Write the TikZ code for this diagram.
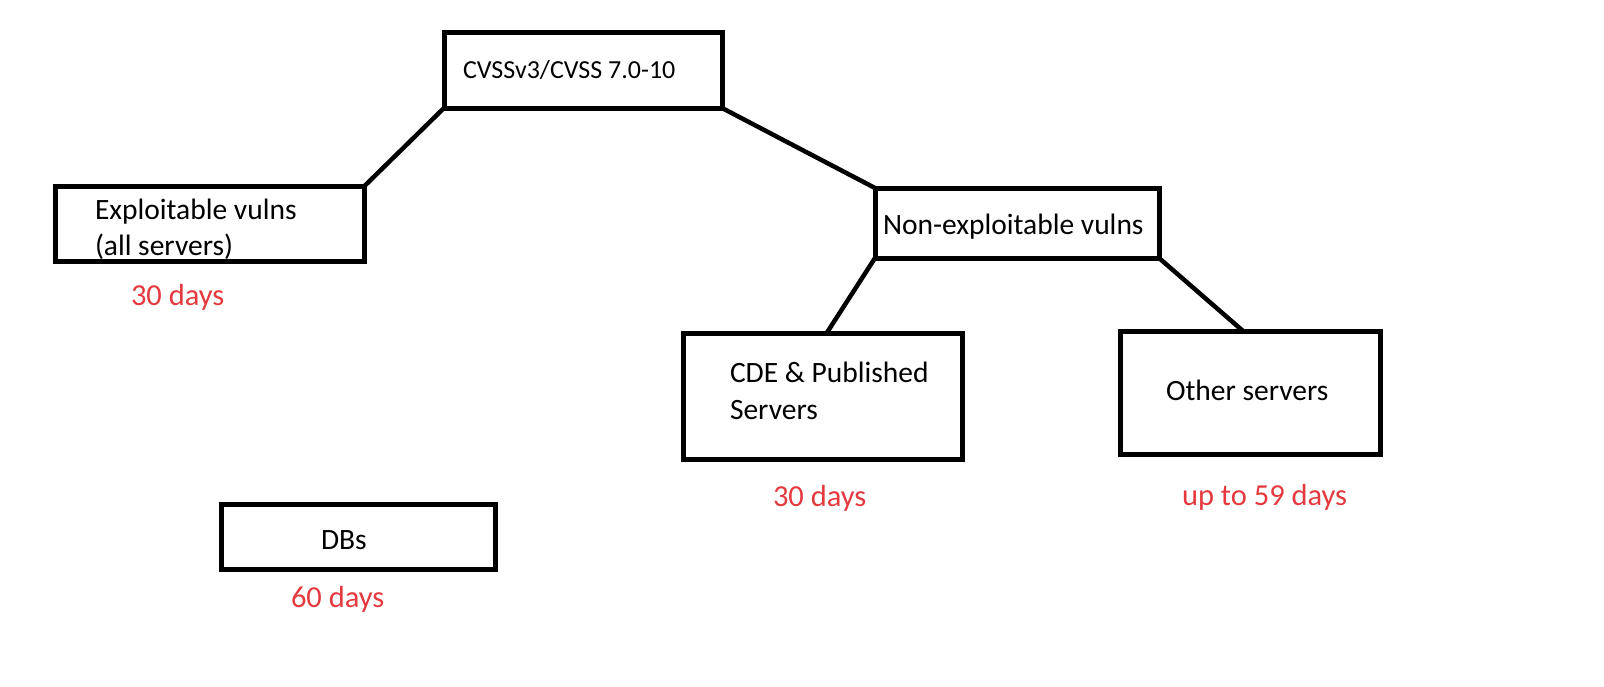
\documentclass[tikz,border=0pt]{standalone}
\usepackage{fontspec}
\setmainfont{Carlito}
\definecolor{daysred}{RGB}{228,57,62}
\begin{document}
\begin{tikzpicture}[x=1pt,y=-1pt,
  box/.style={draw=black, line width=5pt, outer sep=0pt, inner sep=0pt, fill=none},
  link/.style={draw=black, line width=4.5pt},
  lbl/.style={anchor=base west, inner sep=0pt, outer sep=0pt, font=\fontsize{29.5}{35}\selectfont},
  toplbl/.style={anchor=base west, inner sep=0pt, outer sep=0pt, font=\fontsize{26}{31}\selectfont},
  days/.style={anchor=base west, inner sep=0pt, outer sep=0pt, font=\fontsize{30.5}{36}\selectfont, text=daysred}]
\useasboundingbox (0,0) rectangle (1604,686);
% boxes
\node[box, minimum width=278pt, minimum height=75.5pt] (top) at (583,70.25) {};
\node[box, minimum width=309pt, minimum height=74.5pt] (expl) at (209.5,223.75) {};
\node[box, minimum width=284pt, minimum height=70pt] (nonexp) at (1017,223) {};
\node[box, minimum width=279.5pt, minimum height=126pt] (cde) at (822.75,396) {};
\node[box, minimum width=260.5pt, minimum height=123pt] (other) at (1250.25,392.5) {};
\node[box, minimum width=274pt, minimum height=64.5pt] (dbs) at (358,536.75) {};
% connectors
\draw[link] (top.south west) -- (expl.north east);
\draw[link] (top.south east) -- (nonexp.north west);
\draw[link] (nonexp.south west) -- ([xshift=143.7pt]cde.north west);
\draw[link] (nonexp.south east) -- ([xshift=123pt]other.north west);
% texts
\node[toplbl] (ttop) at (463,78) {CVSSv3/CVSS 7.0-10};
\node[lbl] (texpla) at (95,219) {Exploitable vulns};
\node[lbl] (texplb) at (95,255) {(all servers)};
\node[days] (d1) at (131,305) {30 days};
\node[lbl] (tnon) at (883,234) {Non-exploitable vulns};
\node[lbl] (tcdea) at (730,382) {CDE \& Published};
\node[lbl] (tcdeb) at (730,419) {Servers};
\node[days] (d2) at (773,506) {30 days};
\node[lbl] (toth) at (1166,400) {Other servers};
\node[days] (d3) at (1182,505) {up to 59 days};
\node[lbl] (tdbs) at (321,549) {DBs};
\node[days] (d4) at (291,607) {60 days};
\end{tikzpicture}
\end{document}
